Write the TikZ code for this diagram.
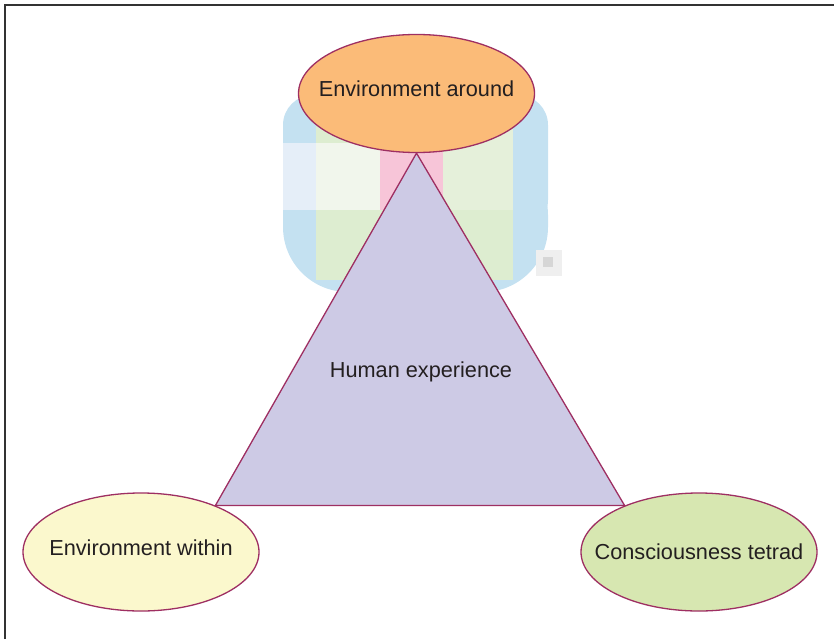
\documentclass[tikz,border=0pt]{standalone}
\usepackage{fontspec}
\setmainfont{Liberation Sans}
\usetikzlibrary{shapes.geometric}
\usetikzlibrary{backgrounds}
\definecolor{rim}{HTML}{9E2F62}
\definecolor{ink}{HTML}{231F20}
\definecolor{frame}{HTML}{333333}
\definecolor{aroundfill}{HTML}{FBBB78}
\definecolor{withinfill}{HTML}{FBF8CD}
\definecolor{tetradfill}{HTML}{D7E7B1}
\definecolor{humanfill}{HTML}{CDCAE5}
\definecolor{bblue}{HTML}{C4E1F1}
\definecolor{bgreen}{HTML}{DDEDD0}
\definecolor{bgreenl}{HTML}{E5F0DA}
\definecolor{bpale}{HTML}{F1F6EC}
\definecolor{bpaleb}{HTML}{E5EEF8}
\definecolor{bpink}{HTML}{F7C5D8}
\definecolor{bspeck}{HTML}{EFEFEF}
\definecolor{bspeckd}{HTML}{D6D6D6}
\tikzset{
  oval/.style={ellipse,draw=rim,line width=1.3pt,minimum width=236pt,minimum height=118pt,inner sep=0pt},
  tri/.style={draw=rim,line width=1.3pt,fill=humanfill,line join=miter},
  lbl/.style={text=ink,inner sep=0pt,font=\fontsize{21.7}{24}\selectfont}
}

\begin{document}
\begin{tikzpicture}[x=1pt,y=-1pt]
    \useasboundingbox (0,0) rectangle (834,639);
    \draw[frame,line width=2pt] (5,639) -- (5,5) -- (834,5);

    \node[oval,fill=aroundfill,label={[lbl,yshift=5pt]center:Environment around}] (around) at (416.5,93.5) {};
    \node[oval,fill=withinfill,label={[lbl,yshift=4pt]center:Environment within}] (within) at (141,552) {};
    \node[oval,fill=tetradfill,label={[lbl]center:Consciousness tetrad}] (tetrad) at (699,552) {};
    \node[lbl] (human) at (421,372) {Human experience};

    \begin{scope}[on background layer]
      \fill[bblue,rounded corners=30pt] (283,95) rectangle (548,230);
      \fill[bblue,rounded corners=65pt] (283,150) rectangle (548,292);
      \foreach \xa/\ya/\xb/\yb/\c in {316/100/513/280/bgreen,283/143/316/210/bpaleb,316/143/380/210/bpale,
        380/100/443/210/bpink,443/100/513/210/bgreenl,536/250/562/276/bspeck,543/257/553/267/bspeckd}
        \fill[\c] (\xa,\ya) rectangle (\xb,\yb);
      \draw[tri] (around.south) -- (within.32) -- (tetrad.148) -- cycle;
    \end{scope}
\end{tikzpicture}
\end{document}
